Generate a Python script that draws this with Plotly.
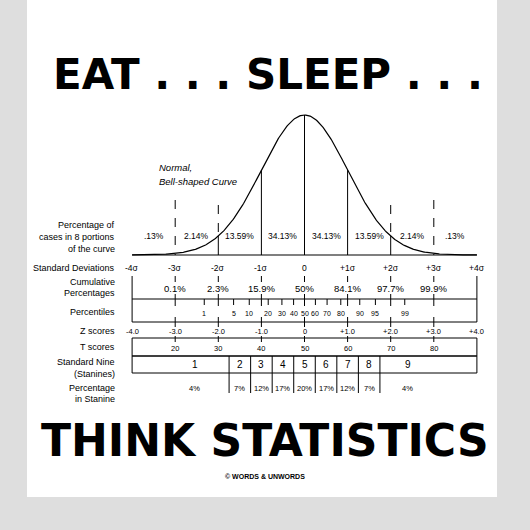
import numpy as np
import plotly.graph_objects as go

# ---- data ----
sigma_ticks = [-4, -3, -2, -1, 0, 1, 2, 3, 4]
sd_labels = ["-4σ", "-3σ", "-2σ", "-1σ", "0", "+1σ", "+2σ", "+3σ", "+4σ"]
portion_pos = [-3.5, -2.5, -1.5, -0.5, 0.5, 1.5, 2.5, 3.5]
portion_labels = [".13%", "2.14%", "13.59%", "34.13%", "34.13%", "13.59%", "2.14%", ".13%"]
cum_pos = [-3, -2, -1, 0, 1, 2, 3]
cum_labels = ["0.1%", "2.3%", "15.9%", "50%", "84.1%", "97.7%", "99.9%"]
pct_values = [1, 5, 10, 20, 30, 40, 50, 60, 70, 80, 90, 95, 99]
pct_z = [-2.326, -1.645, -1.282, -0.842, -0.524, -0.253, 0, 0.253, 0.524, 0.842, 1.282, 1.645, 2.326]
z_labels = ["-4.0", "-3.0", "-2.0", "-1.0", "0", "+1.0", "+2.0", "+3.0", "+4.0"]
t_pos = [-3, -2, -1, 0, 1, 2, 3]
t_labels = ["20", "30", "40", "50", "60", "70", "80"]
stanine_bounds = [-1.75, -1.25, -0.75, -0.25, 0.25, 0.75, 1.25, 1.75]
stanine_centers = [-2.55, -1.5, -1.0, -0.5, 0, 0.5, 1.0, 1.5, 2.4]
stanine_labels = ["1", "2", "3", "4", "5", "6", "7", "8", "9"]
stanine_pct = ["4%", "7%", "12%", "17%", "20%", "17%", "12%", "7%", "4%"]

# ---- geometry (pixel y, sigma x) ----
PX_PER_S = 43.1
X0 = 304.5
xr = [(0 - X0) / PX_PER_S, (530 - X0) / PX_PER_S]
BASE, PEAK = 255, 115

def curve_y(z):
    return BASE - (BASE - PEAK) * np.exp(-0.5 * np.asarray(z) ** 2)

fig = go.Figure()
zz = np.linspace(-4, 4, 400)
fig.add_trace(go.Scatter(x=zz, y=curve_y(zz), mode="lines",
                         line=dict(color="black", width=1.2), hoverinfo="skip"))

shapes = []
def L(x0, y0, x1, y1, w=1, dash=None):
    shapes.append(dict(type="line", xref="x", yref="y", x0=x0, y0=y0, x1=x1, y1=y1,
                       line=dict(color="black", width=w, dash=dash)))

shapes.append(dict(type="rect", xref="paper", yref="paper", x0=27/530, x1=497/530,
                   y0=1-497/530, y1=1, fillcolor="white", line=dict(width=0), layer="below"))

L(-4, BASE, 4, BASE, 1.2)
for s in [-2, -1, 0, 1, 2]:
    L(s, BASE, s, float(curve_y(s)), 1)
for s in [-3, 3]:
    L(s, 200, s, BASE, 1, "dash")
for s in [-2, 2]:
    L(s, 205, s, float(curve_y(s)), 1, "dash")

for s in [-4, 4]:
    L(s, 276, s, 322)
for s in cum_pos:
    L(s, 276, s, 282)
    L(s, 294, s, 306)
L(-4, 299, 4, 299)
for z in pct_z:
    L(z, 299, z, 305)
L(-4, 322, 4, 322)
for s in sigma_ticks[1:-1]:
    L(s, 317, s, 327)
shapes.append(dict(type="rect", xref="x", yref="y", x0=-4, x1=4, y0=338, y1=356,
                   line=dict(color="black", width=1)))
for s in t_pos:
    L(s, 336, s, 342)
shapes.append(dict(type="rect", xref="x", yref="y", x0=-4, x1=4, y0=356, y1=373,
                   line=dict(color="black", width=1)))
for b in stanine_bounds:
    L(b, 356, b, 393)

ann = []
def T(x, y, text, size=8, xanchor="center", italic=False, xref="x", yref="y", bold=False, family="Liberation Sans"):
    if italic:
        text = "<i>" + text + "</i>"
    if bold:
        text = "<b>" + text + "</b>"
    ann.append(dict(x=x, y=y, xref=xref, yref=yref, text=text, showarrow=False,
                    xanchor=xanchor, yanchor="middle", font=dict(size=size, color="black", family=family)))

LX = (117 - X0) / PX_PER_S
for y, t in [(225, "Percentage of"), (237, "cases in 8 portions"), (249, "of the curve"),
             (268, "Standard Deviations"), (282, "Cumulative"), (293, "Percentages"),
             (312, "Percentiles"), (331, "Z scores"), (347, "T scores"),
             (362, "Standard Nine"), (374, "(Stanines)"), (388, "Percentage"), (399, "in Stanine")]:
    T(LX, y, t, size=9, xanchor="right")

for p, t in zip(portion_pos, portion_labels):
    T(p, 236, t, size=8.5)
for s, t in zip(sigma_ticks, sd_labels):
    T(s, 268, t, size=8.5)
for s, t in zip(cum_pos, cum_labels):
    T(s, 288, t, size=9.5)
for z, t in zip(pct_z, pct_values):
    T(z, 313, str(t), size=7)
for s, t in zip(sigma_ticks, z_labels):
    T(s, 331, t, size=7.5)
for s, t in zip(t_pos, t_labels):
    T(s, 348, t, size=7.5)
for c, t in zip(stanine_centers, stanine_labels):
    T(c, 364, t, size=10)
for c, t in zip(stanine_centers, stanine_pct):
    T(c, 388, t, size=7.5)

T((157 - X0) / PX_PER_S, 167, "Normal,", size=9.5, italic=True, xanchor="left")
T((157 - X0) / PX_PER_S, 181, "Bell-shaped Curve", size=9.5, italic=True, xanchor="left")

T(268/530, 1 - 75/530, "EAT . . . SLEEP . . .", size=42, xref="paper", yref="paper", bold=True, family="DejaVu Sans")
T(265/530, 1 - 440/530, "THINK STATISTICS", size=44, xref="paper", yref="paper", bold=True, family="DejaVu Sans")
T(265/530, 1 - 476/530, "© WORDS & UNWORDS", size=7, xref="paper", yref="paper", bold=True)

fig.update_layout(width=530, height=530, margin=dict(l=0, r=0, t=0, b=0),
                  paper_bgcolor="#dedede", plot_bgcolor="rgba(0,0,0,0)",
                  showlegend=False, shapes=shapes, annotations=ann,
                  xaxis=dict(range=xr, visible=False, fixedrange=True),
                  yaxis=dict(range=[530, 0], visible=False, fixedrange=True))
fig.write_html("out.html", config={"displayModeBar": False},
               post_script="document.body.style.margin='0px';document.body.style.overflow='hidden';")
